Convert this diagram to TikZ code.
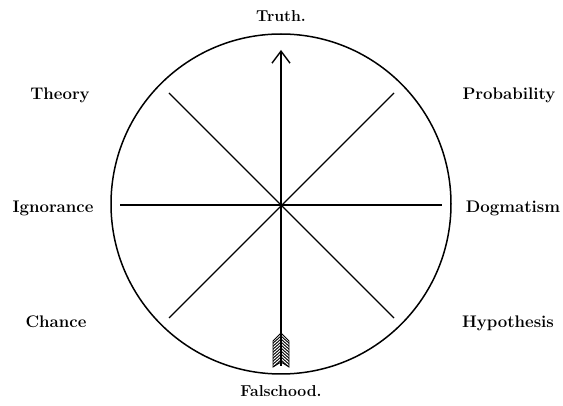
\documentclass[tikz,border=0pt]{standalone}
\usetikzlibrary{arrows.meta}
\begin{document}
\begin{tikzpicture}[x=1pt,y=-1pt,
  spoke/.style={line width=1.4pt},
  rim/.style={line width=1.5pt},
  lbl/.style={font=\fontsize{16.8}{19}\selectfont\bfseries, inner sep=0pt},
  lblt/.style={font=\fontsize{15.8}{19}\selectfont\bfseries, inner sep=0pt}]
\useasboundingbox (0,0) rectangle (563,406);
\coordinate (O) at (281,205);
\draw[rim] (281,204) circle (170);
% spoke ends
\coordinate (N) at (281,50);
\coordinate (S) at (281,366);
\coordinate (W) at (120,205);
\coordinate (E) at (442,205);
\coordinate (NW) at (169,93);
\coordinate (NE) at (394,93);
\coordinate (SW) at (169,318);
\coordinate (SE) at (394,318);
\draw[spoke] (W) -- (E);
\draw[spoke] (NW) -- (SE);
\draw[spoke] (NE) -- (SW);
\draw[spoke, -{Straight Barb[length=12pt,width=18pt,line width=1.4pt]}] (S) -- (N);
% feather
\begin{scope}
\clip (281,333) -- (273,341) -- (273,367) -- (281,362) -- (289,367) -- (289,341) -- cycle;
\foreach \y in {330,333,...,366}{
  \draw[line width=0.9pt] (271,\y+9) -- (281,\y) -- (291,\y+9);
}
\end{scope}
\draw[line width=0.9pt] (281,333) -- (273,341) -- (273,367) -- (281,362) -- (289,367) -- (289,341) -- cycle;
% labels
\node[lblt] (truth) at (281,16) {Truth.};
\node[lblt] (fals) at (281,391) {Falschood.};
\node[lbl] (theory) at (60,95) {Theory};
\node[lbl] (prob) at (509,95) {Probability};
\node[lbl] (ign) at (53,208) {Ignorance};
\node[lbl] (dog) at (513,208) {Dogmatism};
\node[lbl] (chance) at (56,322) {Chance};
\node[lbl] (hyp) at (508,323) {Hypothesis};
\end{tikzpicture}
\end{document}
